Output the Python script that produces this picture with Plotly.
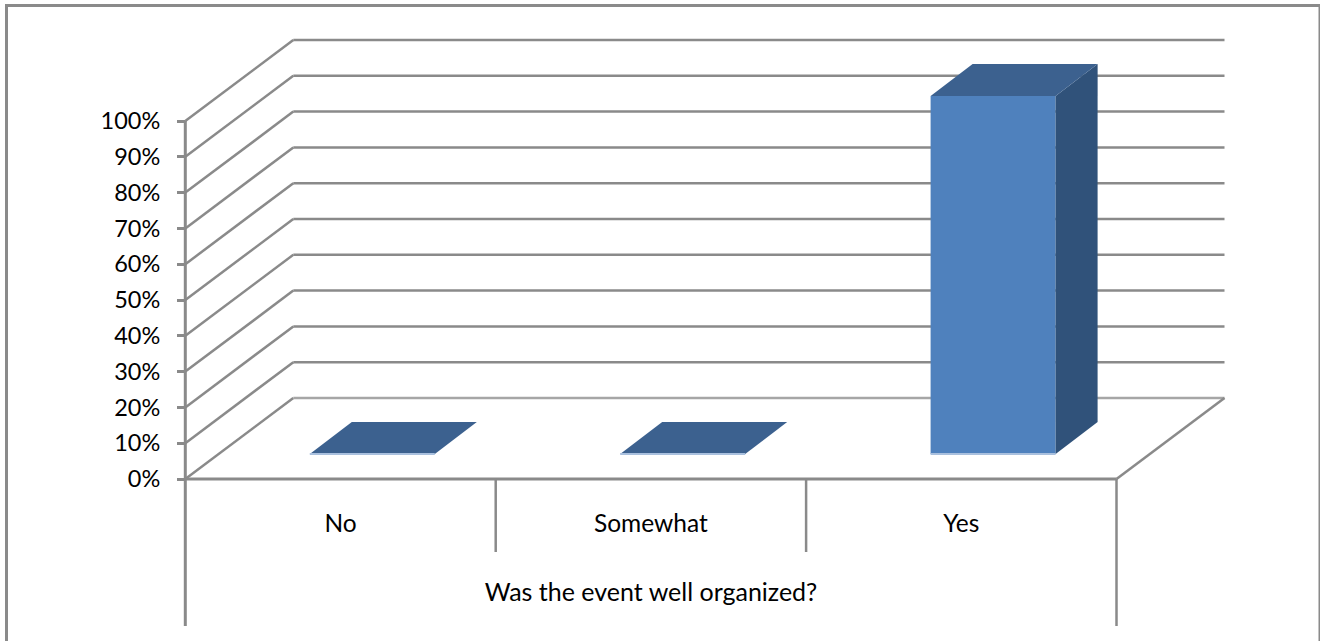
import plotly.graph_objects as go

# ---- data ----
categories = ["No", "Somewhat", "Yes"]
values = [0.0, 0.0, 1.0]
axis_title = "Was the event well organized?"
y_ticks = [0.0, 0.1, 0.2, 0.3, 0.4, 0.5, 0.6, 0.7, 0.8, 0.9, 1.0]
y_labels = ["0%", "10%", "20%", "30%", "40%", "50%", "60%", "70%", "80%", "90%", "100%"]

# ---- figure mapping / style ----
W, H = 1320, 641
DOMAIN_PX = 1302               # x axis domain ends here so the axis title centres under the plot
X0_PX, X_UNIT = 340.5, 310.4   # pixel of category 0, pixels per category
Y0_PX, Y_UNIT = 479.0, 358.0   # pixel of value 0, pixels per 100%
xrange_ = [(0 - X0_PX) / X_UNIT, (DOMAIN_PX - X0_PX) / X_UNIT]
yrange_ = [(Y0_PX - H) / Y_UNIT, Y0_PX / Y_UNIT]

# 3-D look: oblique offsets in data units
WALL_DX, WALL_DY = 108 / X_UNIT, 81 / Y_UNIT
BAR_DX, BAR_DY = 31.8 / X_UNIT, 25 / Y_UNIT
SIDE_DX, SIDE_DY = 42 / X_UNIT, 32 / Y_UNIT
BAR_W = 125 / X_UNIT

GREY = "#8A8A8A"
FRONT, TOP, SIDE, EDGE = "#4F81BD", "#3C618F", "#30527A", "#A9C0DE"
FONT_X = dict(family="Lato, Carlito, Calibri, sans-serif", size=24.5, color="#000000")
FONT_T = dict(family="Lato, Carlito, Calibri, sans-serif", size=25, color="#000000")
FONT_Y = dict(family="Lato, Carlito, Calibri, sans-serif", size=23.5, color="#000000")

x_left, x_right = -0.5, len(categories) - 0.5


def line(x0, y0, x1, y1, width=2.5, color=GREY):
    return dict(type="line", xref="x", yref="y", x0=x0, y0=y0, x1=x1, y1=y1,
                layer="below", line=dict(color=color, width=width))


shapes = [dict(type="rect", xref="paper", yref="paper",
               x0=6.5 / W, x1=1320 / W, y0=-20 / H, y1=1 - 5.5 / H,
               layer="below", line=dict(color=GREY, width=3), fillcolor="#FFFFFF")]

# wall + floor grid
for t in y_ticks:
    shapes.append(line(x_left, t, x_left + WALL_DX, t + WALL_DY))
    shapes.append(line(x_left + WALL_DX, t + WALL_DY, x_right + WALL_DX, t + WALL_DY,
                       color="#A6A6A6" if t == 0 else GREY))
shapes.append(line(x_right, 0, x_right + WALL_DX, WALL_DY))

# value axis, category axis and the multi-level separators
LOW1, LOW2 = -73 / Y_UNIT, -147 / Y_UNIT
shapes.append(line(x_left, y_ticks[-1], x_left, LOW2, width=3))
shapes.append(line(x_left, 0, x_right, 0, width=3))
shapes.append(line(x_right, 0, x_right, LOW2))
for i in range(1, len(categories)):
    shapes.append(line(i - 0.5, 0, i - 0.5, LOW1))

fig = go.Figure()

# front faces
fig.add_trace(go.Bar(
    x=[i + BAR_DX for i in range(len(categories))], y=values, base=BAR_DY,
    width=BAR_W, marker=dict(color=FRONT, line=dict(width=0)),
    hoverinfo="skip", showlegend=False))

# top and side faces, plus lit lower edge
for i, v in enumerate(values):
    xl = i + BAR_DX - BAR_W / 2
    xr = i + BAR_DX + BAR_W / 2
    yb = BAR_DY
    yt = BAR_DY + v
    if v > 0:
        fig.add_trace(go.Scatter(
            x=[xr, xr + SIDE_DX, xr + SIDE_DX, xr, xr],
            y=[yb, yb + SIDE_DY, yt + SIDE_DY, yt, yb],
            mode="lines", fill="toself", fillcolor=SIDE, line=dict(width=0),
            hoverinfo="skip", showlegend=False))
    fig.add_trace(go.Scatter(
        x=[xl, xr, xr + SIDE_DX, xl + SIDE_DX, xl],
        y=[yt, yt, yt + SIDE_DY, yt + SIDE_DY, yt],
        mode="lines", fill="toself", fillcolor=TOP, line=dict(width=0),
        hoverinfo="skip", showlegend=False))
    fig.add_trace(go.Scatter(
        x=[xl, xr], y=[yb, yb], mode="lines", line=dict(color=EDGE, width=2),
        hoverinfo="skip", showlegend=False))

fig.update_layout(
    width=W, height=H, autosize=False,
    margin=dict(l=0, r=0, t=0, b=0),
    paper_bgcolor="#FFFFFF", plot_bgcolor="rgba(0,0,0,0)",
    showlegend=False, shapes=shapes, barmode="overlay",
    xaxis=dict(range=xrange_, domain=[0, DOMAIN_PX / W], anchor="free", position=(H - Y0_PX) / H,
               tickmode="array", tickvals=list(range(len(categories))), ticktext=categories,
               ticks="outside", ticklen=23, tickcolor="rgba(0,0,0,0)", tickangle=0,
               showgrid=False, zeroline=False, showline=False, tickfont=FONT_X,
               title=dict(text=axis_title, font=FONT_T, standoff=47), automargin=False),
    yaxis=dict(range=yrange_, domain=[0, 1], anchor="free", position=185 / W,
               tickmode="array", tickvals=y_ticks, ticktext=y_labels,
               ticks="outside", ticklen=8, tickwidth=2.5, tickcolor=GREY, ticklabelstandoff=12,
               showgrid=False, zeroline=False, showline=False, tickfont=FONT_Y, automargin=False),
)

fig.write_html("out.html", config={"displayModeBar": False},
               post_script="document.body.style.margin='0';document.documentElement.style.overflow='hidden';")
